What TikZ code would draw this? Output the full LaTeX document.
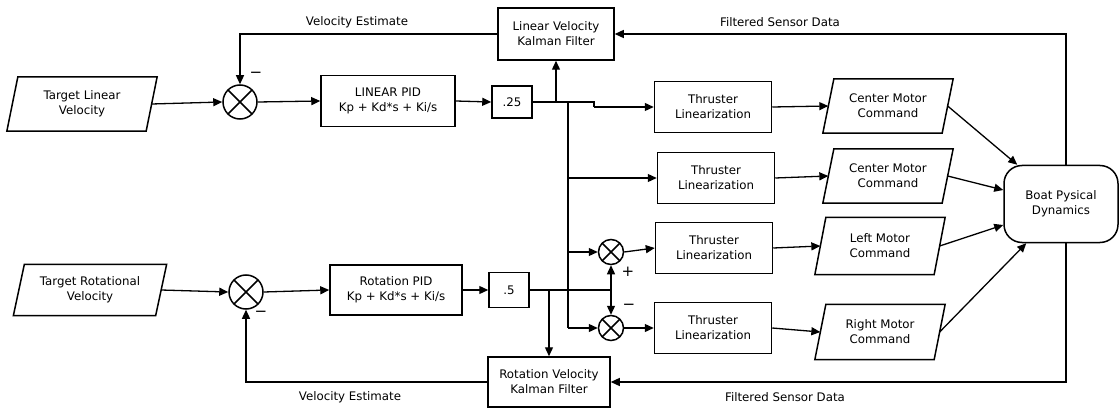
\documentclass[tikz,border=0pt]{standalone}
\usepackage{fontspec}
\setmainfont{DejaVu Sans}
\usetikzlibrary{arrows.meta,calc}
\begin{document}
\begin{tikzpicture}[x=1pt,y=-1pt,
  font=\fontsize{11.8}{15}\selectfont,
  line width=1.3pt,
  >={Triangle[length=9pt,width=8pt]},
  blk/.style={draw,line width=1.5pt,align=center,inner sep=0pt},
  para/.style={align=center,inner sep=0pt},
  sumc/.style={draw,circle,line width=1.5pt,inner sep=0pt,
    path picture={\draw[line width=1.5pt] (path picture bounding box.north west)--(path picture bounding box.south east)
      (path picture bounding box.north east)--(path picture bounding box.south west);}},
  lbl/.style={inner sep=0pt},
  sgn/.style={inner sep=0pt,font=\fontsize{15}{15}\selectfont},
  tbox/.style={blk,minimum width=117,minimum height=51}
]
\useasboundingbox (0,0) rectangle (1120,409);

% top row
\node[para,minimum width=138,minimum height=53] (tlv) at (82,104) {Target Linear\\Velocity};
\node[sumc,minimum size=34] (s1) at (240,102) {};
\node[blk,minimum width=134,minimum height=51] (lpid) at (388,101) {LINEAR PID\\Kp + Kd*s + Ki/s};
\node[blk,minimum width=40,minimum height=32] (g1) at (512,102) {.25};
\node[blk,minimum width=116,minimum height=52] (klin) at (556,34) {Linear Velocity\\Kalman Filter};

\node[tbox] (th1) at (713,107) {Thruster\\Linearization};
\node[para,minimum width=118,minimum height=53] (cmc1) at (888,106) {Center Motor\\Command};
\node[tbox] (th2) at (716,178) {Thruster\\Linearization};
\node[para,minimum width=118,minimum height=53] (cmc2) at (888,176) {Center Motor\\Command};
\node[tbox] (th3) at (714,248) {Thruster\\Linearization};
\node[para,minimum width=118,minimum height=56] (lmc) at (880,246) {Left Motor\\Command};
\node[sumc,minimum size=25] (s3) at (611,252) {};
\node[tbox] (th4) at (713,328) {Thruster\\Linearization};
\node[para,minimum width=118,minimum height=54] (rmc) at (880,332) {Right Motor\\Command};
\node[sumc,minimum size=25] (s4) at (611,328) {};

\node[blk,rounded corners=18,minimum width=114,minimum height=77] (boat) at (1061,204) {Boat Pysical\\Dynamics};

% bottom row
\node[para,minimum width=141,minimum height=50] (trv) at (90,290) {Target Rotational\\Velocity};
\node[sumc,minimum size=34] (s2) at (246,292) {};
\node[blk,minimum width=132,minimum height=50] (rpid) at (396,290) {Rotation PID\\Kp + Kd*s + Ki/s};
\node[blk,minimum width=40,minimum height=35] (g2) at (509,290) {.5};
\node[blk,minimum width=122,minimum height=50] (krot) at (549,382) {Rotation Velocity\\Kalman Filter};

% parallelogram outlines
\foreach \n in {tlv,trv,cmc1,cmc2,lmc,rmc}
  \draw[line width=1.5pt] ([xshift=5.5]\n.north west) -- ([xshift=5.5]\n.north east)
     -- ([xshift=-5.5]\n.south east) -- ([xshift=-5.5]\n.south west) -- cycle;

% junction coordinates
\coordinate (j1) at (556,102);
\coordinate (b0) at (568,102);
\coordinate (b1) at (568,178);
\coordinate (b2) at (568,252);
\coordinate (b3) at (568,328);
\coordinate (st1) at (594,102);
\coordinate (st2) at (594,107);
\coordinate (j2) at (549,290);
\coordinate (j3) at (611,290);

% forward path, linear
\draw[->] (tlv.east) -- (s1.west);
\draw[->] (s1.east) -- (lpid.west);
\draw[->] (lpid.east) -- (g1.west);
\draw (g1.east) -- (st1) -- (st2);
\draw[->] (st2) -- (th1.west);
\draw[->] (j1) -- (klin.south);
\draw (b0) -- (b3);
\draw[->] (b3) -- (s4.west);
\draw[->] (b1) -- (th2.west);
\draw[->] (b2) -- (s3.west);
\draw[->] (s3.east) -- (th3.west);
\draw[->] (s4.east) -- (th4.west);

% forward path, rotation
\draw[->] (trv.east) -- (s2.west);
\draw[->] (s2.east) -- (rpid.west);
\draw[->] (rpid.east) -- (g2.west);
\draw (g2.east) -- (j3);
\draw[->] (j2) -- (krot.north);
\draw[->] (j3) -- (s3.south);
\draw[->] (j3) -- (s4.north);

% thrusters to commands
\draw[->] (th1.east) -- (cmc1.west);
\draw[->] (th2.east) -- (cmc2.west);
\draw[->] (th3.east) -- (lmc.west);
\draw[->] (th4.east) -- (rmc.west);

% commands to boat
\draw[->] (cmc1.east) -- ([xshift=14]boat.north west);
\draw[->] (cmc2.east) -- ([yshift=14]boat.west);
\draw[->] (lmc.east) -- ([yshift=-21]boat.west);
\draw[->] (rmc.east) -- ([xshift=23]boat.south west);

% feedback
\draw[->] ([xshift=5]boat.north) |- (klin.east);
\draw[->] ([xshift=5]boat.south) |- (krot.east);
\draw[->] (klin.west) -| (s1.north);
\draw[->] (krot.west) -| (s2.south);

% labels
\node[lbl] (le1) at (357,22) {Velocity Estimate};
\node[lbl] (lf1) at (780,22) {Filtered Sensor Data};
\node[lbl] (le2) at (350,397) {Velocity Estimate};
\node[lbl] (lf2) at (785,397) {Filtered Sensor Data};
\node[sgn] (m1) at (256,75) {−};
\node[sgn] (p3) at (628,272) {+};
\node[sgn] (m4) at (629,307) {−};
\node[sgn] (m2) at (261,314) {−};
\end{tikzpicture}
\end{document}
